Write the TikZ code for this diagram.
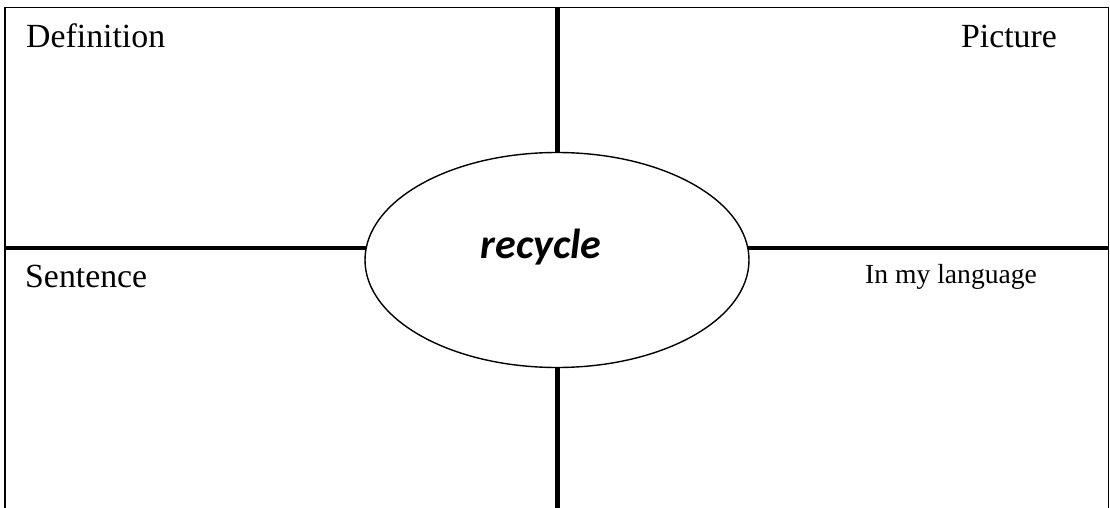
\documentclass[tikz,border=0pt]{standalone}
\usepackage{fontspec}
\setmainfont{Liberation Serif}
\newfontfamily\carlito{Carlito}
\usetikzlibrary{shapes.geometric}
\begin{document}
\begin{tikzpicture}[x=1pt,y=-1pt,
  border/.style={line width=1.8pt,draw=black},
  axisline/.style={line width=4.5pt,draw=black},
  label/.style={anchor=base west,inner sep=0pt,font=\fontsize{33.8}{38}\selectfont},
  center/.style={ellipse,draw=black,line width=1.4pt,fill=white,minimum width=384pt,minimum height=215pt,inner sep=0pt}]
\useasboundingbox (0,0) rectangle (1110,508);
\draw[border] (5.3,520) -- (5.3,7.5) -- (1108.5,7.5) -- (1108.5,520);
\coordinate (top) at (557.5,7.5);
\coordinate (bot) at (557.5,520);
\coordinate (lft) at (5.3,248);
\coordinate (rgt) at (1108.5,248);
\draw[axisline] (top) -- (bot);
\draw[axisline] (lft) -- (rgt);
\node[center] (ell) at (557,260) {};
\node[anchor=base,inner sep=0pt,font=\carlito\bfseries\itshape\fontsize{42}{48}\selectfont] (word) at (541,258) {recycle};
\node[label] (def) at (26,48) {Definition};
\node[label,anchor=base east] (pic) at (1057,48) {Picture};
\node[label] (sen) at (25,287) {Sentence};
\node[label,font=\fontsize{27.6}{32}\selectfont] (lang) at (865,283) {In my language};
\end{tikzpicture}
\end{document}
